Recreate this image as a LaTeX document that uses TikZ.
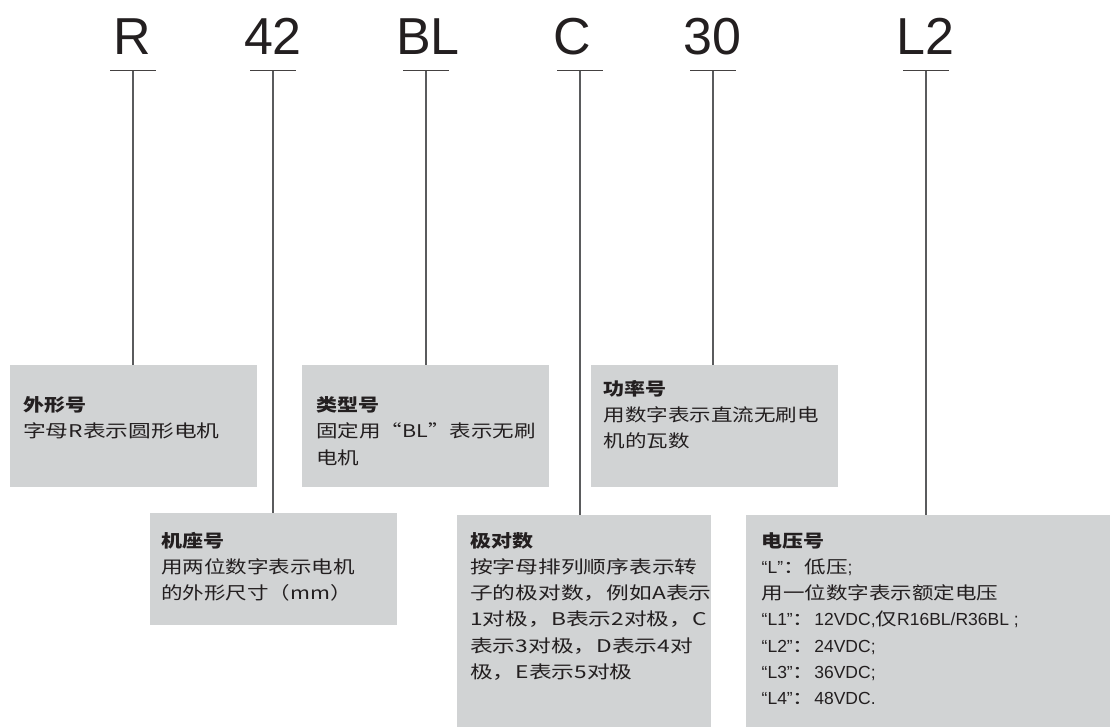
\documentclass[tikz,border=0pt]{standalone}
\usepackage{fontspec}
\setmainfont{Liberation Sans}
\newfontfamily\cjk[FakeStretch=1.23]{Noto Sans CJK SC}
\newfontfamily\cjkw[FakeStretch=1.3]{Noto Sans CJK SC}
\newfontfamily\cjkb[FakeStretch=1.2]{Noto Sans CJK SC}
\newfontfamily\lat{Liberation Sans}
\definecolor{boxgray}{HTML}{D1D3D4}
\definecolor{ink}{HTML}{231F20}
\definecolor{linegray}{HTML}{5A5B5D}
\newcommand\tblock[1]{\vtop{\baselineskip=26.3pt\lineskiplimit=-100pt\lineskip=0pt\halign{##\hfil\cr#1\crcr}}}
\newcommand\ttl[1]{{\cjkb\bfseries #1}}
\begin{document}
\begin{tikzpicture}[x=1pt,y=-1pt,
  boxst/.style={fill=boxgray, draw=none, anchor=north west, inner sep=0pt},
  codest/.style={font=\fontsize{52}{56}\selectfont, text=ink, anchor=base, inner sep=0pt},
  txt/.style={anchor=base west, inner sep=0pt, text=ink, font=\fontsize{17.5}{20}\selectfont},
  tick/.style={draw=ink!85, line width=1.6pt},
  conn/.style={draw=linegray, line width=1.2pt}]
\useasboundingbox[fill=white] (0,0) rectangle (1110,727);

% code letters
\node[codest] (cR)  at (132.6,55) {R};
\node[codest] (c42) at (273,55) {42};
\node[codest] (cBL) at (428,55) {BL};
\node[codest] (cC)  at (572,55) {C};
\node[codest] (c30) at (712,55) {30};
\node[codest] (cL2) at (925,55) {L2};

% tick points
\coordinate (kR)  at (133,70.7);
\coordinate (k42) at (273,70.7);
\coordinate (kBL) at (426,70.7);
\coordinate (kC)  at (580,70.7);
\coordinate (k30) at (713,70.7);
\coordinate (kL2) at (926,70.7);

% boxes
\node[boxst, minimum width=247, minimum height=122] (bR)  at (10,365) {};
\node[boxst, minimum width=247, minimum height=122] (bBL) at (302,365) {};
\node[boxst, minimum width=246.5, minimum height=122] (b30) at (591,365) {};
\node[boxst, minimum width=247, minimum height=112] (b42) at (150,513) {};
\node[boxst, minimum width=254, minimum height=212] (bC)  at (457,515) {};
\node[boxst, minimum width=364, minimum height=212] (bL2) at (746,515) {};

% ticks and connectors
\foreach \k/\b in {kR/bR,k42/b42,kBL/bBL,kC/bC,k30/b30,kL2/bL2}{
  \draw[tick] ([xshift=-23pt]\k) -- ([xshift=23pt]\k);
  \draw[conn] (\k) -- (\k |- \b.north);
}

% texts
\node[txt] (tR) at (23,411.5) {\tblock{\ttl{外形号}\cr{\cjkw 字母R表示圆形电机}}};
\node[txt] (tBL) at (316,411.5) {\tblock{\ttl{类型号}\cr{\cjk 固定用“BL”表示无刷}\cr{\cjk 电机}}};
\node[txt] (t30) at (603.5,395) {\tblock{\ttl{功率号}\cr{\cjk 用数字表示直流无刷电}\cr{\cjk 机的瓦数}}};
\node[txt] (t42) at (161,547) {\tblock{\ttl{机座号}\cr{\cjk 用两位数字表示电机}\cr{\cjk 的外形尺寸（mm）}}};
\node[txt] (tC) at (470,547) {\tblock{\ttl{极对数}\cr{\cjkw 按字母排列顺序表示转}\cr{\cjkw 子的极对数，例如A表示}\cr{\cjkw 1对极，B表示2对极，C}\cr{\cjkw 表示3对极，D表示4对}\cr{\cjkw 极，E表示5对极}}};
\node[txt] (tL2) at (761.5,547) {\tblock{\ttl{电压号}\cr
  {\lat “L”}{\cjk ：低压}{\lat ;}\cr
  {\cjk 用一位数字表示额定电压}\cr
  {\lat “L1”}{\cjk ：}{\lat 12VDC,}{\cjk 仅}{\lat R16BL/R36BL ;}\cr
  {\lat “L2”}{\cjk ：}{\lat 24VDC;}\cr
  {\lat “L3”}{\cjk ：}{\lat 36VDC;}\cr
  {\lat “L4”}{\cjk ：}{\lat 48VDC.}}};
\end{tikzpicture}
\end{document}
